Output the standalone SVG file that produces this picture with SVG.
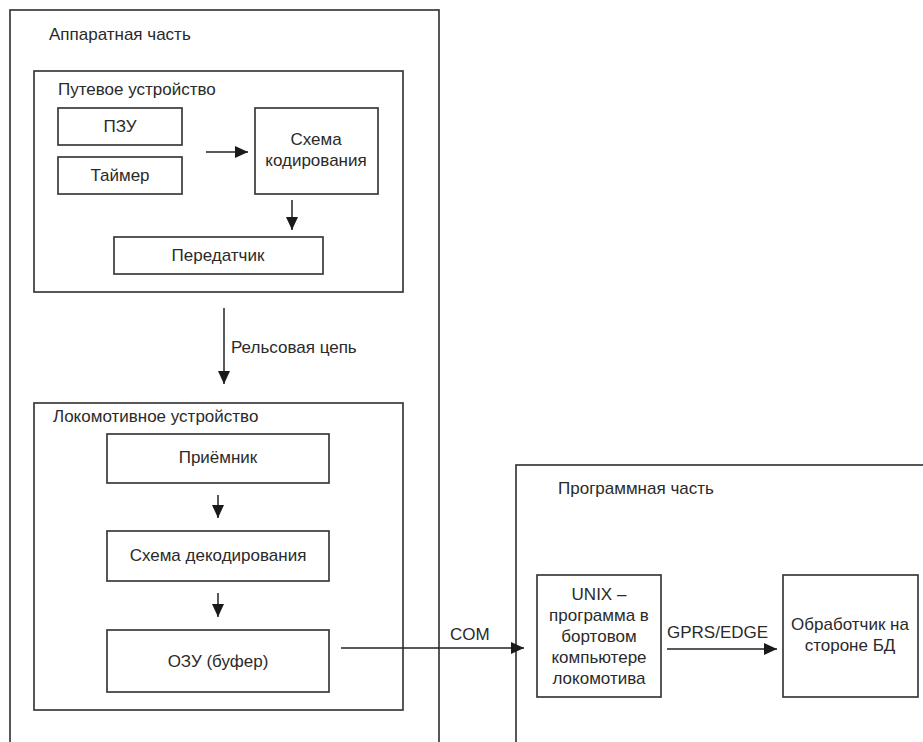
<svg xmlns="http://www.w3.org/2000/svg" width="923" height="742" viewBox="0 0 923 742">
<style>
  .box { fill: none; stroke: #3a3a3a; stroke-width: 1.7; }
  .t { font-family: "Liberation Sans", Arial, sans-serif; font-size: 17px; fill: #2a2a2a; }
  .c { text-anchor: middle; }
  .conn { stroke: #222; stroke-width: 1.5; fill: none; marker-end: url(#ah); }
</style>
<defs>
  <marker id="ah" markerUnits="userSpaceOnUse" markerWidth="14" markerHeight="12" refX="13" refY="6" orient="auto">
    <path d="M0,0 L13,6 L0,12 z" fill="#1a1a1a"/>
  </marker>
</defs>
<rect width="923" height="742" fill="#ffffff"/>

<g id="hardware">
  <rect class="box" x="10" y="10" width="429" height="800"/>
  <text class="t" x="49" y="40">Аппаратная часть</text>
</g>

<g id="track-device">
  <rect class="box" x="34" y="71" width="369" height="221"/>
  <text class="t" x="58" y="95">Путевое устройство</text>
</g>
<g id="rom">
  <rect class="box" x="58" y="108" width="124" height="37"/>
  <text class="t c" x="120" y="132">ПЗУ</text>
</g>
<g id="timer">
  <rect class="box" x="58" y="157" width="124" height="37"/>
  <text class="t c" x="120" y="181">Таймер</text>
</g>
<g id="encoder">
  <rect class="box" x="255" y="108" width="123" height="86"/>
  <text class="t c" x="316" y="145">Схема</text>
  <text class="t c" x="316" y="166">кодирования</text>
</g>
<g id="transmitter">
  <rect class="box" x="114" y="237" width="209" height="37"/>
  <text class="t c" x="218" y="261">Передатчик</text>
</g>

<g id="loco-device">
  <rect class="box" x="34" y="403" width="369" height="307"/>
  <text class="t" x="53" y="422">Локомотивное устройство</text>
</g>
<g id="receiver">
  <rect class="box" x="107" y="434" width="222" height="49"/>
  <text class="t c" x="218" y="463">Приёмник</text>
</g>
<g id="decoder">
  <rect class="box" x="107" y="531" width="222" height="50"/>
  <text class="t c" x="218" y="561">Схема декодирования</text>
</g>
<g id="ram">
  <rect class="box" x="107" y="630" width="222" height="62"/>
  <text class="t c" x="218" y="667">ОЗУ (буфер)</text>
</g>

<g id="software">
  <rect class="box" x="516" y="465" width="500" height="400"/>
  <text class="t" x="558" y="494">Программная часть</text>
</g>
<g id="unix">
  <rect class="box" x="537" y="575" width="124" height="122"/>
  <text class="t c" x="599" y="600">UNIX –</text>
  <text class="t c" x="599" y="621">программа в</text>
  <text class="t c" x="599" y="642">бортовом</text>
  <text class="t c" x="599" y="663">компьютере</text>
  <text class="t c" x="599" y="684">локомотива</text>
</g>
<g id="db-handler">
  <rect class="box" x="783" y="575" width="135" height="122"/>
  <text class="t c" x="850" y="630">Обработчик на</text>
  <text class="t c" x="850" y="651">стороне БД</text>
</g>

<g id="connectors">
  <line class="conn" x1="206" y1="152" x2="248" y2="152"/>
  <line class="conn" x1="292" y1="200" x2="292" y2="230"/>
  <line class="conn" x1="224" y1="308" x2="224" y2="384"/>
  <text class="t" x="231" y="353">Рельсовая цепь</text>
  <line class="conn" x1="218" y1="495" x2="218" y2="518"/>
  <line class="conn" x1="218" y1="593" x2="218" y2="617"/>
  <line class="conn" x1="341" y1="648" x2="524" y2="648"/>
  <text class="t" x="450" y="640">COM</text>
  <line class="conn" x1="667" y1="649" x2="777" y2="649"/>
  <text class="t" x="667" y="638">GPRS/EDGE</text>
</g>
</svg>
